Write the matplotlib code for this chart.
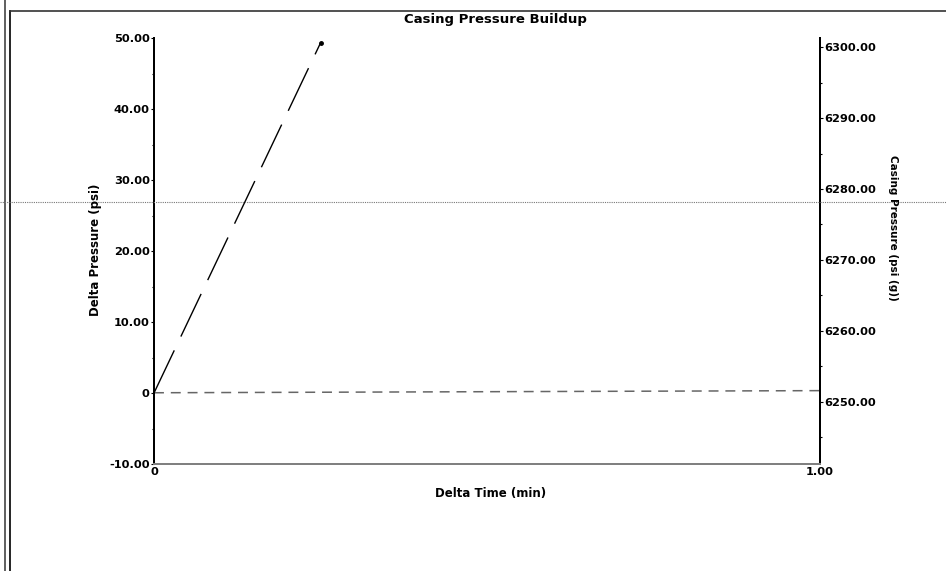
import matplotlib
matplotlib.use('Agg')
import matplotlib.pyplot as plt
from matplotlib.lines import Line2D

# values
time_delta = [0.0, 0.25]
delta_psi = [0.0, 49.3]

time_casing = [0.0, 0.5, 1.0]
casing_psi = [6251.25, 6251.4, 6251.55]

left_ticks = [-10, 0, 10, 20, 30, 40, 50]
right_ticks = [6250, 6260, 6270, 6280, 6290, 6300]
x_ticks = [0.0, 1.0]
x_labels = ['0', '1.00']

W, H = 946, 571
plt.rcParams['font.family'] = ['DejaVu Sans']
plt.rcParams['font.weight'] = 'bold'

fig = plt.figure(figsize=(W / 100, H / 100), dpi=100)
ax = fig.add_axes([154 / W, 1 - 464 / H, (820 - 154) / W, (464 - 38) / H])
ax2 = ax.twinx()

ax.plot(time_delta, delta_psi, color='black', lw=1.0, dashes=(34, 11))
ax.plot(time_delta[-1:], delta_psi[-1:], 'o', color='black', ms=2.5)
ax2.plot(time_casing, casing_psi, color='#666666', lw=1.1, dashes=(6.5, 4.5))

ax.set_xticks(x_ticks)
ax.set_xticklabels(x_labels)
ax.set_yticks(left_ticks)
ax.set_yticklabels(['0' if v == 0 else f'{v:.2f}' for v in left_ticks])
ax.set_yticks([v + 5 for v in left_ticks[:-1]], minor=True)
ax2.set_yticks(right_ticks)
ax2.set_yticklabels([f'{v:.2f}' for v in right_ticks])
ax2.set_yticks([v + 5 for v in right_ticks[:-1]] + [6245], minor=True)

# limits after the ticks, or set_yticks stretches them
ax.set_xlim(0, 1)
ax.set_ylim(-10, 50)
ax2.set_ylim(6241.2, 6301.3)

for a in (ax, ax2):
    a.tick_params(which='both', direction='out', length=2, width=0.8, pad=1,
                  labelsize=8.2)
    a.tick_params(which='minor', length=1.5)
    a.spines['top'].set_visible(False)
    a.spines['bottom'].set_color('#808080')
    a.spines['bottom'].set_linewidth(1.4)
    a.spines['left'].set_linewidth(1.4)
    a.spines['right'].set_linewidth(1.4)
ax.tick_params(axis='x', length=0, pad=2)
ax.patch.set_visible(False)

fig.text(495 / W, 1 - 20 / H, 'Casing Pressure Buildup', ha='center', va='center',
         fontsize=9.5, fontweight='bold')
fig.text(491 / W, 1 - 494 / H, 'Delta Time (min)', ha='center', va='center',
         fontsize=8.5, fontweight='bold')
fig.text(95 / W, 1 - 250 / H, 'Delta Pressure (psi)', ha='center', va='center',
         rotation=90, fontsize=8.5, fontweight='bold')
fig.text(893 / W, 1 - 228 / H, 'Casing Pressure (psi (g))', ha='center', va='center',
         rotation=-90, fontsize=7.5, fontweight='bold')

# page frame and scan line
fig.add_artist(Line2D([5 / W, 5 / W], [0, 1], color='#444444', lw=1.2))
fig.add_artist(Line2D([10 / W, 10 / W], [0, 1 - 11 / H], color='black', lw=1.2))
fig.add_artist(Line2D([10 / W, 1], [1 - 11 / H, 1 - 11 / H], color='#333333', lw=1.2))
fig.add_artist(Line2D([0, 1], [1 - 201.7 / H, 1 - 201.7 / H], color='#777777',
                      lw=0.8, ls=(0, (1, 1))))

fig.savefig('out.png', dpi=100)
